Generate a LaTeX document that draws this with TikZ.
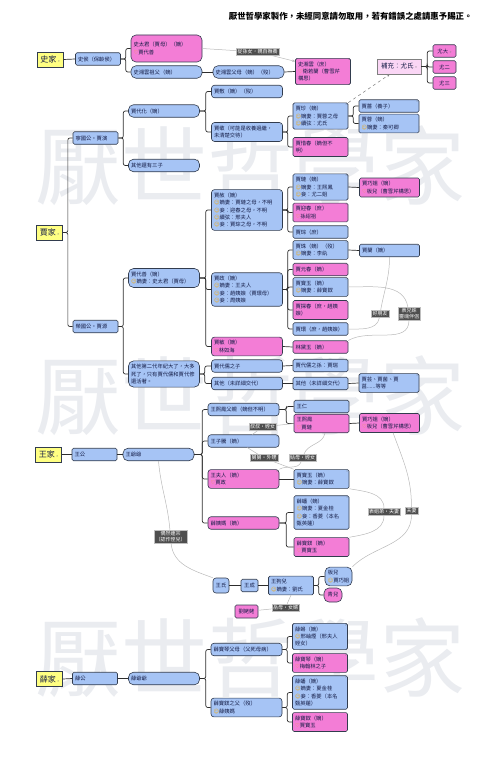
\documentclass[tikz,border=0pt]{standalone}
\usepackage{fontspec}
\setmainfont{Noto Sans CJK TC}
\newfontfamily\symfont{DejaVu Sans}
\usepackage{xcolor}
\usetikzlibrary{
    arrows.meta,
    positioning
}

\definecolor{bluefill}{RGB}{166,196,245}
\definecolor{pinkfill}{RGB}{243,125,214}
\definecolor{rootfill}{RGB}{255,255,130}
\definecolor{notefill}{RGB}{250,214,245}
\definecolor{nodeline}{RGB}{50,60,78}
\definecolor{treeline}{RGB}{45,45,45}
\definecolor{relline}{RGB}{185,185,185}
\definecolor{tagfill}{RGB}{78,78,78}
\definecolor{textc}{RGB}{20,28,70}
\definecolor{iconc}{RGB}{240,168,20}
\definecolor{wmark}{RGB}{234,236,240}

\newcommand\wficon{{\symfont\color{iconc}☺}}
\newcommand\hbicon{{\symfont\color{iconc}♡}}
\newcommand\mkr{\hspace{1.5pt}{\fontsize{4}{4}\selectfont\color{gray}»}}

\begin{document}
\begin{tikzpicture}[
    x=1pt, y=1pt,
    base/.style={
        draw=nodeline,
        line width=0.6pt,
        text=textc,
        align=left,
        inner xsep=2.5pt,
        inner ysep=3.3pt,
        minimum height=12.5pt,
        font=\fontsize{5.3}{7.3}\selectfont
    },
    male/.style={base, fill=bluefill, rounded corners=1.5pt},
    female/.style={base, fill=pinkfill, rounded corners=1.5pt},
    pill/.style={rounded corners=5pt},
    hexa/.style={rounded corners=3pt},
    w45/.style={text width=40pt},
    w55/.style={text width=50pt},
    w60/.style={text width=55pt},
    w71/.style={text width=66pt},
    mk/.style={label={[anchor=north east, inner sep=1pt, text=gray, font=\fontsize{3.5}{4}\selectfont]north east:»}},
    root/.style={
        draw=nodeline,
        fill=rootfill,
        line width=0.7pt,
        text=textc,
        font=\fontsize{8}{9}\selectfont,
        minimum width=26pt,
        minimum height=15pt,
        inner sep=1pt
    },
    tag/.style={
        fill=tagfill,
        draw=gray!50,
        text=white,
        align=center,
        inner sep=1.2pt,
        font=\fontsize{5}{6}\selectfont
    },
    tree/.style={draw=treeline, line width=0.7pt, rounded corners=2pt},
    rel/.style={draw=relline, line width=0.5pt}
]

\useasboundingbox (0,0) rectangle (492,-768);

% Watermark
\node[text=wmark, font=\fontsize{86}{86}\selectfont] (wm1) at (250,-166) {厭世哲學家};
\node[text=wmark, font=\fontsize{86}{86}\selectfont] (wm2) at (250,-396) {厭世哲學家};
\node[text=wmark, font=\fontsize{86}{86}\selectfont] (wm3) at (250,-658) {厭世哲學家};

% Title
\node[anchor=east, font=\fontsize{8.4}{9}\selectfont\bfseries] (title) at (476,-16)
    {厭世哲學家製作，未經同意請勿取用，若有錯誤之處請惠予賜正。};

% Shi family
\node[root] (shi) at (50,-59.5) {史家\mkr};
\node[male, w45] (shihou) at (98,-59) {史侯（保齡侯）};
\node[female, pill, w71, minimum height=27pt] (taijun) at (166.5,-48.5) {史太君（賈母）（嫡）\\\hbicon 賈代善};
\node[male, pill, w71] (xyzf) at (166.5,-72) {史湘雲祖父（嫡）};
\node[male, pill, w71] (xyfm) at (248.5,-72) {史湘雲父母（嫡）（歿）};
\node[female, w55, mk] (xiangyun) at (323,-71.5) {史湘雲（庶）\\\hbicon 衛若蘭（曹雪芹\\構思）};
\node[tag] (congsun) at (257.5,-52) {從孫女，親自撫養};

% Supplement: You family
\node[base, fill=notefill, draw=gray, rounded corners=0pt, minimum width=44pt, minimum height=15pt,
    font=\fontsize{6.5}{7}\selectfont] (youshi) at (399,-66.5) {補充：尤氏\mkr};
\node[female, minimum width=23pt, inner xsep=1pt] (youda) at (444.5,-51) {尤大\mkr};
\node[female, minimum width=23pt, inner xsep=1pt] (youer) at (444.5,-67) {尤二};
\node[female, minimum width=23pt, inner xsep=1pt] (yousan) at (444.5,-83) {尤三};

% Jia family
\node[root] (jia) at (49.5,-232.5) {賈家\mkr};
\node[male, w45] (ningguo) at (95.5,-138) {寧國公‧賈演};
\node[male, w45] (rongguo) at (95.5,-326.5) {榮國公‧賈源};

% Ningguo branch
\node[male, pill, w71, mk] (daihua) at (164,-111) {賈代化（嫡）};
\node[male, pill, w71, mk] (sanzi) at (164,-165.5) {其他還有三子};
\node[male, hexa, w71, mk] (jiafu) at (247,-91.5) {賈敷（嫡）（歿）};
\node[male, hexa, w71, mk] (jiajing) at (247,-132) {賈敬（可能是收養過繼，\\未清楚交待）};
\node[male, w55, mk] (jiazhen) at (320.5,-116) {賈珍（嫡）\\\wficon 嫡妻：賈蓉之母\\\wficon 續弦：尤氏};
\node[female, w55, mk] (xichun) at (320.5,-147) {賈惜春（嫡但不\\明）};
\node[male, w60, mk] (jiaqiang) at (389,-106) {賈薔（養子）};
\node[male, w60] (jiarong) at (389,-123.5) {賈蓉（嫡）\\\wficon 嫡妻：秦可卿};

% Rongguo branch
\node[male, pill, w71, mk] (daishan) at (164,-278) {賈代善（嫡）\\\wficon 嫡妻：史太君（賈母）};
\node[male, pill, w71] (dier) at (164,-374) {其他第二代年紀大了，大多\\死了，只有賈代儒和賈代修\\還活著。};
\node[male, hexa, w71, mk] (jiashe) at (247,-210) {賈赦（嫡）\\\wficon 嫡妻：賈璉之母，不明\\\wficon 妾：迎春之母，不明\\\wficon 續弦：邢夫人\\\wficon 妾：賈琮之母，不明};
\node[male, w55, mk] (jialian) at (320.5,-187) {賈璉（嫡）\\\wficon 嫡妻：王熙鳳\\\wficon 妾：尤二姐};
\node[female, w55, mk] (yingchun) at (320.5,-212.5) {賈迎春（庶）\\\hbicon 孫紹祖};
\node[male, w55] (jiacong) at (320.5,-232) {賈琮（庶）};
\node[female, w60] (qiaojie) at (389.5,-187.5) {賈巧姐（嫡）\\\hbicon 板兒（曹雪芹構思）};
\node[male, hexa, w71, mk] (jiazheng) at (247,-289.5) {賈政（嫡）\\\wficon 嫡妻：王夫人\\\wficon 妾：趙姨娘（賈環母）\\\wficon 妾：周姨娘};
\node[male, w55, mk] (jiazhu) at (320.5,-250) {賈珠（嫡）（歿）\\\wficon 嫡妻：李紈};
\node[male, w60, mk] (jialan) at (389.5,-250.5) {賈蘭（嫡）};
\node[female, w55, mk] (yuanchun) at (320.5,-269.5) {賈元春（嫡）};
\node[male, w55, mk] (baoyu) at (320.5,-287) {賈寶玉（嫡）\\\wficon 嫡妻：薛寶釵};
\node[female, w55, mk] (tanchun) at (320.5,-310) {賈探春（庶，趙姨\\娘）};
\node[male, w55] (jiahuan) at (320.5,-329) {賈環（庶，趙姨娘）};
\node[female, hexa, w71, mk] (jiamin) at (247,-346.5) {賈敏（嫡）\\\hbicon 林如海};
\node[female, w55, mk] (daiyu) at (320.5,-347) {林黛玉（嫡）};
\node[male, hexa, w71] (dairuzi) at (247,-366) {賈代儒之子};
\node[male, w55, mk] (jiarui) at (320.5,-365.5) {賈代儒之孫：賈瑞};
\node[male, hexa, w71] (qita1) at (247,-383.5) {其他（未詳細交代）};
\node[male, w55] (qita2) at (320.5,-383.5) {其他（未詳細交代）};
\node[male, w60, mk] (jiayun) at (389,-383) {賈芸、賈菌、賈\\菖......等等};
\node[tag] (haoyou) at (380,-314) {好朋友};
\node[tag] (linghun) at (409,-313.5) {表兄妹\\靈魂伴侶};

% Wang family
\node[root] (wang) at (48.5,-454.5) {王家\mkr};
\node[male, w45] (wanggong) at (94.5,-454.5) {王公};
\node[male, pill, w71] (wangyy) at (158.5,-454.5) {王爺爺};
\node[male, hexa, w71, mk] (xffq) at (243.5,-409.5) {王熙鳳父親（嫡但不明）};
\node[male, hexa, w71, mk] (ziteng) at (243.5,-441) {王子騰（嫡）};
\node[female, hexa, w71, mk] (wangfr) at (243.5,-479) {王夫人（嫡）\\\hbicon 賈政};
\node[female, hexa, w71, mk] (xueyima) at (243.5,-523) {薛姨媽（嫡）};
\node[male, w55] (wangren) at (321.5,-406.5) {王仁};
\node[female, w55] (xifeng) at (321.5,-423.5) {王熙鳳\\\hbicon 賈璉};
\node[female, w60] (qiaojie2) at (389.5,-423) {賈巧姐（嫡）\\\hbicon 板兒（曹雪芹構思）};
\node[male, w55, mk] (baoyu2) at (321.5,-479) {賈寶玉（嫡）\\\wficon 嫡妻：薛寶釵};
\node[male, w55, mk] (xuepan) at (321.5,-512.5) {薛蟠（嫡）\\\wficon 嫡妻：夏金桂\\\wficon 妾：香菱（本名\\甄英蓮）};
\node[female, w55, mk] (baochai) at (321.5,-547) {薛寶釵（嫡）\\\hbicon 賈寶玉};
\node[male, hexa, minimum width=16pt, minimum height=15pt, inner xsep=1pt] (wangshi) at (221,-585.5) {王氏};
\node[male, minimum width=17pt, inner xsep=1pt] (wangcheng) at (249.5,-585.5) {王成};
\node[male, w45, mk] (gouer) at (291,-585.5) {王狗兒\\\wficon 嫡妻：劉氏};
\node[male, pill, minimum width=27pt, inner xsep=1.5pt] (baner) at (338.5,-576.5) {板兒\\\wficon 賈巧姐};
\node[female, pill, minimum width=18pt, minimum height=14pt, inner xsep=1pt] (qinger) at (333,-595) {青兒};
\node[female, minimum width=23pt, minimum height=13pt, inner xsep=1pt] (liulaolao) at (246.5,-611.5) {劉姥姥};
\node[tag] (shushu) at (262.5,-427) {叔叔‧姪女};
\node[tag] (jiujiu) at (264,-458) {舅舅‧外甥};
\node[tag] (gumu) at (302.5,-458) {姑母‧姪女};
\node[tag] (biaojie) at (384,-512) {表姐弟‧夫妻};
\node[tag] (fuqi) at (411.5,-511) {夫妻};
\node[tag] (lianzong) at (170.5,-536.5) {偶然連宗\\（認作侄兒）};
\node[tag] (yuemu) at (285.5,-607.5) {岳母‧女婿};

% Xue family
\node[root] (xue) at (49.5,-679) {薛家\mkr};
\node[male, w45] (xuegong) at (95,-678.5) {薛公};
\node[male, pill, w71] (xueyy) at (164,-678.5) {薛爺爺};
\node[male, hexa, w71] (bqfm) at (246.5,-649.5) {薛寶琴父母（父死母病）};
\node[male, hexa, w71] (bcfq) at (246.5,-707.5) {薛寶釵之父（歿）\\\wficon 薛姨媽};
\node[male, w55, mk] (xueke) at (320,-636.5) {薛蝌（嫡）\\\wficon 邢岫煙（邢夫人\\姪女）};
\node[female, w55, mk] (baoqin) at (320,-663) {薛寶琴（嫡）\\\hbicon 梅翰林之子};
\node[male, w55, mk] (xuepan2) at (320,-692.5) {薛蟠（嫡）\\\wficon 嫡妻：夏金桂\\\wficon 妾：香菱（本名\\甄英蓮）};
\node[female, w55] (baochai2) at (320,-722) {薛寶釵（嫡）\\\hbicon 賈寶玉};

% Tree lines: Shi
\draw[tree] (shi.east) -- (shihou.west);
\draw[tree] (shihou.east) -- ++(5,0) |- (taijun.west);
\draw[tree] (shihou.east) -- ++(5,0) |- (xyzf.west);
\draw[tree] (xyzf.east) -- (xyfm.west);
\draw[tree] (xyfm.east) -- (xiangyun.west);
\draw[tree] (youshi.east) -- ++(6,0) |- (youda.west);
\draw[tree] (youshi.east) -- ++(6,0) |- (youer.west);
\draw[tree] (youshi.east) -- ++(6,0) |- (yousan.west);

% Tree lines: Jia
\draw[tree] (jia.east) -- ++(5,0) |- (ningguo.west);
\draw[tree] (jia.east) -- ++(5,0) |- (rongguo.west);
\draw[tree] (ningguo.east) -- ++(5,0) |- (daihua.west);
\draw[tree] (ningguo.east) -- ++(5,0) |- (sanzi.west);
\draw[tree] (daihua.east) -- ++(6,0) |- (jiafu.west);
\draw[tree] (daihua.east) -- ++(6,0) |- (jiajing.west);
\draw[tree] (jiajing.east) -- ++(5,0) |- (jiazhen.west);
\draw[tree] (jiajing.east) -- ++(5,0) |- (xichun.west);
\draw[tree] (jiazhen.east) -- ++(5,0) |- (jiaqiang.west);
\draw[tree] (jiazhen.east) -- ++(5,0) |- (jiarong.west);
\draw[tree] (rongguo.east) -- ++(5,0) |- (daishan.west);
\draw[tree] (rongguo.east) -- ++(5,0) |- (dier.west);
\draw[tree] (daishan.east) -- ++(6,0) |- (jiashe.west);
\draw[tree] (daishan.east) -- ++(6,0) |- (jiazheng.west);
\draw[tree] (daishan.east) -- ++(6,0) |- (jiamin.west);
\draw[tree] (dier.east) -- ++(5,0) |- (dairuzi.west);
\draw[tree] (dier.east) -- ++(5,0) |- (qita1.west);
\draw[tree] (jiashe.east) -- ++(5,0) |- (jialian.west);
\draw[tree] (jiashe.east) -- ++(5,0) |- (yingchun.west);
\draw[tree] (jiashe.east) -- ++(5,0) |- (jiacong.west);
\draw[tree] (jialian.east) -- (qiaojie.west);
\draw[tree] (jiazheng.east) -- ++(5,0) |- (jiazhu.west);
\draw[tree] (jiazheng.east) -- ++(5,0) |- (yuanchun.west);
\draw[tree] (jiazheng.east) -- ++(5,0) |- (baoyu.west);
\draw[tree] (jiazheng.east) -- ++(5,0) |- (tanchun.west);
\draw[tree] (jiazheng.east) -- ++(5,0) |- (jiahuan.west);
\draw[tree] (jiazhu.east) -- (jialan.west);
\draw[tree] (jiamin.east) -- (daiyu.west);
\draw[tree] (dairuzi.east) -- (jiarui.west);
\draw[tree] (qita1.east) -- (qita2.west);
\draw[tree] (qita2.east) -- (jiayun.west);

% Tree lines: Wang
\draw[tree] (wang.east) -- (wanggong.west);
\draw[tree] (wanggong.east) -- (wangyy.west);
\draw[tree] (wangyy.east) -- ++(8,0) |- (xffq.west);
\draw[tree] (wangyy.east) -- ++(8,0) |- (ziteng.west);
\draw[tree] (wangyy.east) -- ++(8,0) |- (wangfr.west);
\draw[tree] (wangyy.east) -- ++(8,0) |- (xueyima.west);
\draw[tree] (xffq.east) -- ++(7,0) |- (wangren.west);
\draw[tree] (xffq.east) -- ++(7,0) |- (xifeng.west);
\draw[tree] (xifeng.east) -- (qiaojie2.west);
\draw[tree] (wangfr.east) -- (baoyu2.west);
\draw[tree] (xueyima.east) -- ++(7,0) |- (xuepan.west);
\draw[tree] (xueyima.east) -- ++(7,0) |- (baochai.west);
\draw[tree] (wangshi.east) -- (wangcheng.west);
\draw[tree] (wangcheng.east) -- (gouer.west);
\draw[tree] (gouer.east) -- ++(5,0) |- (baner.west);
\draw[tree] (gouer.east) -- ++(5,0) |- (qinger.west);

% Tree lines: Xue
\draw[tree] (xue.east) -- (xuegong.west);
\draw[tree] (xuegong.east) -- (xueyy.west);
\draw[tree] (xueyy.east) -- ++(6,0) |- (bqfm.west);
\draw[tree] (xueyy.east) -- ++(6,0) |- (bcfq.west);
\draw[tree] (bqfm.east) -- ++(5,0) |- (xueke.west);
\draw[tree] (bqfm.east) -- ++(5,0) |- (baoqin.west);
\draw[tree] (bcfq.east) -- ++(5,0) |- (xuepan2.west);
\draw[tree] (bcfq.east) -- ++(5,0) |- (baochai2.west);

% Relations
\draw[rel] (taijun.east) -- (congsun);
\draw[rel, -{Stealth[length=3pt, width=2.5pt]}] (congsun) -- (xiangyun.160);
\draw[rel, draw=gray, dashed, -{Stealth[length=3pt, width=2.5pt]}] (jiazhen.north east) -- (youshi.-140);
\draw[rel] (jialan.south) to[out=-90, in=80] (haoyou);
\draw[rel] (haoyou) to[out=-100, in=0] (jiahuan.east);
\draw[rel] (baoyu.east) to[out=0, in=100] (linghun);
\draw[rel] (linghun) to[out=-90, in=30] (daiyu.north east);
\draw[rel] (ziteng) -- (shushu) -- (xifeng.west);
\draw[rel] (ziteng.-60) -- (jiujiu) -- (baoyu2.north west);
\draw[rel] (xifeng.-70) to[out=-100, in=70] (gumu) to[out=-110, in=30] (wangfr.north east);
\draw[rel] (baoyu2.south east) to[out=-10, in=90] (biaojie) to[out=-90, in=10] (baochai.north east);
\draw[rel] (qiaojie2.-70) to[out=-70, in=90] (fuqi) to[out=-90, in=45] (baner.north east);
\draw[rel] (wangyy.south) to[out=-85, in=95] (lianzong) to[out=-85, in=160] (wangshi.north west);
\draw[rel] (gouer.south) -- (yuemu) -- (liulaolao);

\end{tikzpicture}
\end{document}
